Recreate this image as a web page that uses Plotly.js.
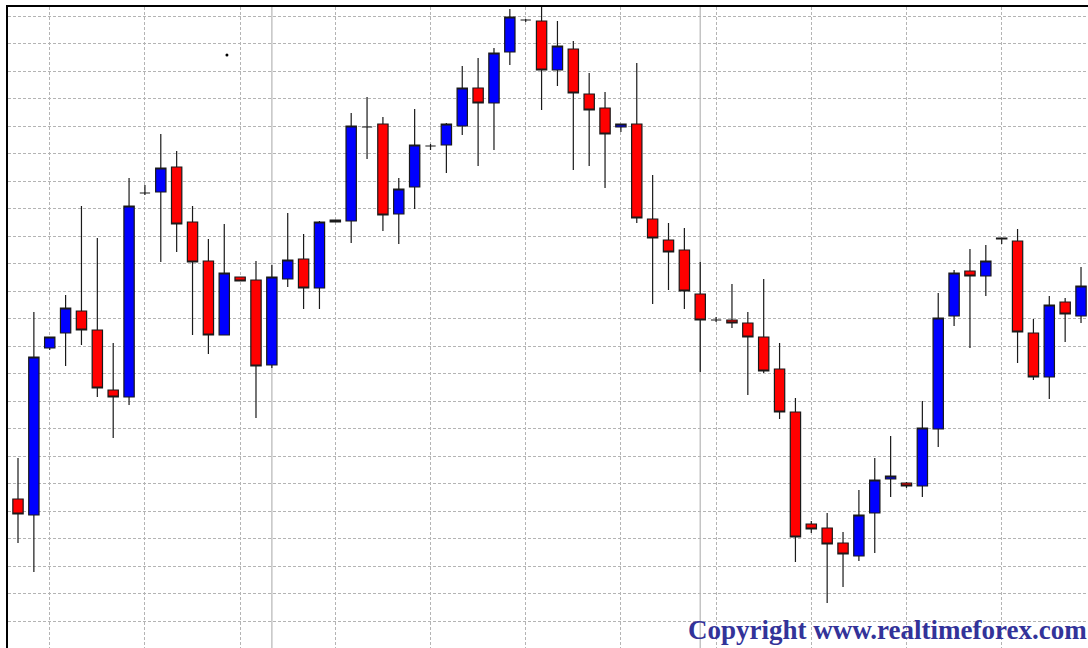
<!DOCTYPE html>
<html>
<head>
<meta charset="utf-8">
<script src="https://cdn.plot.ly/plotly-3.0.1.min.js"></script>
<style>
  html, body { margin: 0; padding: 0; background: #ffffff; }
  #chart { width: 1088px; height: 648px; }
</style>
</head>
<body>
<div id="chart"></div>
<script>
// OHLC values (price units, 1 pixel ~ 1 pip)
const openP = [
  1.2149, 1.2133, 1.2300, 1.2315, 1.2337, 1.2318, 1.2258, 1.2251, 1.2455, 1.2456,
  1.2481, 1.2426, 1.2387, 1.2313, 1.2371, 1.2368, 1.2283, 1.2369, 1.2389, 1.2360,
  1.2426, 1.2427, 1.2521, 1.2524, 1.2434, 1.2461, 1.2502, 1.2503, 1.2522, 1.2560,
  1.2545, 1.2596, 1.2628, 1.2627, 1.2578, 1.2599, 1.2554, 1.2540, 1.2521, 1.2524,
  1.2429, 1.2408, 1.2398, 1.2354, 1.2328, 1.2328, 1.2325, 1.2311, 1.2279, 1.2236,
  1.2124, 1.2120, 1.2105, 1.2092, 1.2135, 1.2169, 1.2165, 1.2162, 1.2219, 1.2332,
  1.2377, 1.2372, 1.2409, 1.2407, 1.2315, 1.2271, 1.2346, 1.2332
];
const highP = [
  1.2190, 1.2336, 1.2311, 1.2353, 1.2442, 1.2410, 1.2305, 1.2470, 1.2463, 1.2514,
  1.2497, 1.2442, 1.2409, 1.2424, 1.2371, 1.2387, 1.2383, 1.2435, 1.2414, 1.2427,
  1.2428, 1.2535, 1.2551, 1.2531, 1.2470, 1.2539, 1.2504, 1.2525, 1.2582, 1.2590,
  1.2600, 1.2639, 1.2629, 1.2643, 1.2627, 1.2607, 1.2575, 1.2556, 1.2524, 1.2585,
  1.2473, 1.2425, 1.2420, 1.2386, 1.2331, 1.2364, 1.2336, 1.2369, 1.2305, 1.2250,
  1.2127, 1.2135, 1.2116, 1.2158, 1.2190, 1.2212, 1.2166, 1.2247, 1.2355, 1.2378,
  1.2399, 1.2403, 1.2410, 1.2419, 1.2329, 1.2352, 1.2350, 1.2381
];
const lowP = [
  1.2105, 1.2076, 1.2298, 1.2282, 1.2303, 1.2251, 1.2210, 1.2243, 1.2453, 1.2386,
  1.2396, 1.2313, 1.2294, 1.2313, 1.2367, 1.2230, 1.2280, 1.2361, 1.2339, 1.2339,
  1.2426, 1.2405, 1.2489, 1.2417, 1.2404, 1.2439, 1.2498, 1.2475, 1.2513, 1.2482,
  1.2498, 1.2583, 1.2626, 1.2538, 1.2562, 1.2478, 1.2482, 1.2460, 1.2516, 1.2425,
  1.2344, 1.2358, 1.2339, 1.2276, 1.2326, 1.2320, 1.2253, 1.2275, 1.2229, 1.2086,
  1.2115, 1.2045, 1.2061, 1.2087, 1.2095, 1.2151, 1.2160, 1.2151, 1.2201, 1.2322,
  1.2300, 1.2352, 1.2404, 1.2285, 1.2268, 1.2249, 1.2306, 1.2325
];
const closeP = [
  1.2134, 1.2291, 1.2311, 1.2340, 1.2318, 1.2260, 1.2251, 1.2442, 1.2455, 1.2480,
  1.2424, 1.2386, 1.2313, 1.2375, 1.2367, 1.2282, 1.2371, 1.2388, 1.2360, 1.2426,
  1.2428, 1.2522, 1.2521, 1.2433, 1.2459, 1.2503, 1.2502, 1.2524, 1.2560, 1.2545,
  1.2595, 1.2631, 1.2628, 1.2578, 1.2602, 1.2555, 1.2538, 1.2514, 1.2524, 1.2430,
  1.2410, 1.2396, 1.2357, 1.2328, 1.2328, 1.2325, 1.2311, 1.2277, 1.2236, 1.2111,
  1.2119, 1.2104, 1.2094, 1.2133, 1.2168, 1.2172, 1.2162, 1.2220, 1.2330, 1.2375,
  1.2372, 1.2387, 1.2410, 1.2316, 1.2271, 1.2343, 1.2334, 1.2362
];
// bar index of the two solid session separators
const separatorBars = [16, 43];
// stray marker seen on the chart
const dotBar = [13.17];
const dotPrice = [1.2593];
const copyrightText = 'Copyright www.realtimeforex.com';

const barIdx = openP.map((_, i) => i);

const traces = [
  {
    type: 'candlestick',
    x: barIdx,
    open: openP, high: highP, low: lowP, close: closeP,
    increasing: { fillcolor: '#0000ff', line: { color: '#1a1a1a', width: 1.2 } },
    decreasing: { fillcolor: '#ff0000', line: { color: '#1a1a1a', width: 1.2 } },
    whiskerwidth: 0,
    hoverinfo: 'skip',
    showlegend: false
  },
  {
    type: 'scatter', mode: 'markers',
    x: dotBar, y: dotPrice,
    marker: { color: '#000000', size: 3 },
    hoverinfo: 'skip', showlegend: false
  }
];

const shapes = separatorBars.map(b => ({
  type: 'line', xref: 'x', yref: 'paper', x0: b, x1: b, y0: 0, y1: 1,
  line: { color: '#c4c4c4', width: 1.5 }, layer: 'below'
}));

const layout = {
  width: 1088, height: 648,
  margin: { l: 8, r: 0, t: 7, b: 0, pad: 0 },
  paper_bgcolor: '#ffffff', plot_bgcolor: '#ffffff',
  showlegend: false,
  boxgap: 0.35, boxgroupgap: 0,
  xaxis: {
    type: 'linear',
    range: [-0.6303, 67.44],
    side: 'top',
    showline: true, linecolor: '#000000', linewidth: 2,
    showgrid: true, gridcolor: '#b4b4b4', gridwidth: 1, griddash: '3px,2px',
    tick0: 2, dtick: 6,
    zeroline: false, showticklabels: false, ticks: '',
    rangeslider: { visible: false },
    fixedrange: true
  },
  yaxis: {
    range: [1.2000, 1.2641],
    showline: true, linecolor: '#000000', linewidth: 2,
    showgrid: true, gridcolor: '#b4b4b4', gridwidth: 1, griddash: '3px,2px',
    tick0: 1.20267, dtick: 0.002751,
    zeroline: false, showticklabels: false, ticks: '',
    fixedrange: true
  },
  shapes: shapes,
  annotations: [{
    text: copyrightText,
    xref: 'paper', yref: 'paper', x: 1, y: 0,
    xanchor: 'right', yanchor: 'bottom',
    xshift: 1, yshift: 1,
    showarrow: false,
    font: { family: 'Liberation Serif, Times New Roman, serif', size: 27, color: '#333399', weight: 'bold' }
  }]
};

Plotly.newPlot('chart', traces, layout, { staticPlot: true, displayModeBar: false });
</script>
</body>
</html>
